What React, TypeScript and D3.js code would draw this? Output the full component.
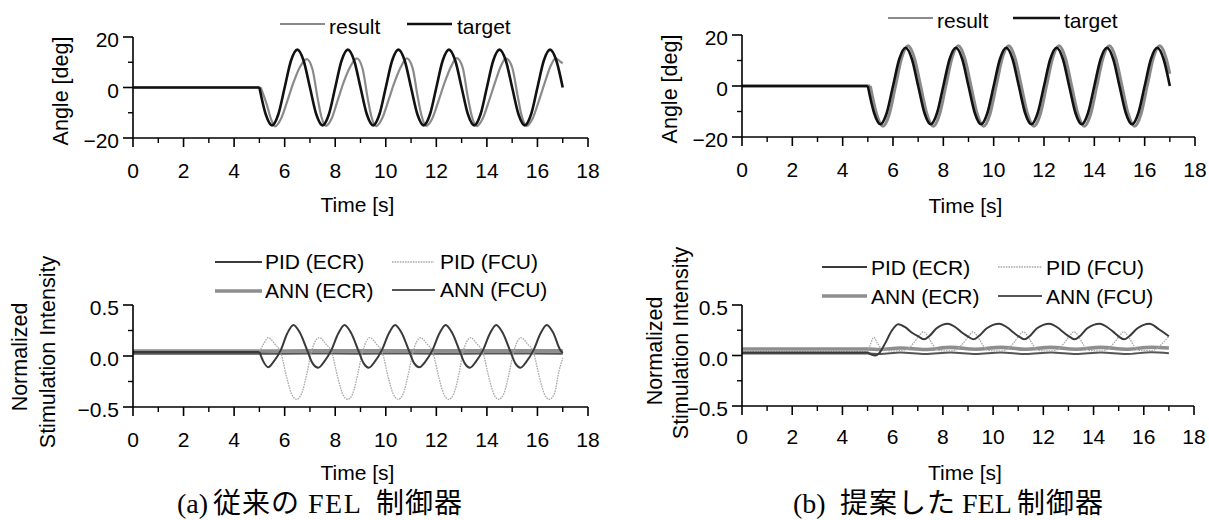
import React from 'react';
import * as d3 from 'd3';

// ---------- tick definitions ----------
const X_TICKS = [0, 2, 4, 6, 8, 10, 12, 14, 16, 18];
const X_MINOR = [1, 3, 5, 7, 9, 11, 13, 15, 17];
const ANGLE_TICKS = [-20, 0, 20];
const ANGLE_LABELS = ['\u221220', '0', '20'];
const ANGLE_MINOR = [-10, 10];
const STIM_TICKS = [-0.5, 0, 0.5];
const STIM_LABELS = ['\u22120.5', '0.0', '0.5'];
const STIM_MINOR = [-0.25, 0.25];

// ---------- captions ----------
const CAPTION_A = ['(a)', '従来の', 'FEL', '制御器'];
const CAPTION_B = ['(b)', '提案した', 'FEL', '制御器'];

// ---------- angle: target (same in both controllers) ----------
const TARGET_T = [0, 5, 5.25, 5.5, 5.75, 6, 6.25, 6.5, 6.75, 7, 7.25, 7.5, 7.75, 8, 8.25, 8.5, 8.75, 9, 9.25, 9.5, 9.75, 10, 10.25, 10.5, 10.75, 11, 11.25, 11.5, 11.75, 12, 12.25, 12.5, 12.75, 13, 13.25, 13.5, 13.75, 14, 14.25, 14.5, 14.75, 15, 15.25, 15.5, 15.75, 16, 16.25, 16.5, 16.75, 17];
const TARGET_V = [0, 0, -10.6, -15, -10.6, 0, 10.6, 15, 10.6, 0, -10.6, -15, -10.6, 0, 10.6, 15, 10.6, 0, -10.6, -15, -10.6, 0, 10.6, 15, 10.6, 0, -10.6, -15, -10.6, 0, 10.6, 15, 10.6, 0, -10.6, -15, -10.6, 0, 10.6, 15, 10.6, 0, -10.6, -15, -10.6, 0, 10.6, 15, 10.6, 0];

// ---------- angle: result, conventional FEL (a) ----------
const RESULT_A_T = [0, 5.05, 5.3, 5.45, 5.62, 5.85, 6.1, 6.35, 6.6, 6.87, 7.1, 7.3, 7.45, 7.63, 7.86, 8.1, 8.35, 8.6, 8.85, 9.08, 9.28, 9.43, 9.62, 9.85, 10.1, 10.35, 10.6, 10.83, 11.06, 11.26, 11.42, 11.6, 11.83, 12.08, 12.33, 12.58, 12.8, 13.04, 13.24, 13.4, 13.6, 13.83, 14.08, 14.33, 14.55, 14.75, 15.0, 15.22, 15.38, 15.58, 15.8, 16.05, 16.3, 16.52, 16.72, 16.9, 17];
const RESULT_A_V = [0, 0, -7, -12.2, -15.4, -12.5, -5.5, 2, 8, 11.2, 7.2, -4, -11.5, -15.2, -12.3, -5, 2.5, 8.3, 11.5, 7.5, -4, -11.5, -15.3, -12.4, -5.3, 2.2, 8.2, 11.5, 7.8, -3.5, -11.3, -15.2, -12.5, -5.5, 2, 8.2, 11.6, 8, -3.5, -11.2, -15.3, -12.4, -5.4, 2.2, 8.4, 11.5, 8, -3.5, -11.3, -15.2, -12.5, -5.5, 2.2, 8.5, 11.5, 10.3, 9.6];

// ---------- angle: result, proposed FEL (b) ----------
const RESULT_B_T = [0, 5.1, 5.35, 5.6, 5.85, 6.1, 6.35, 6.6, 6.85, 7.1, 7.35, 7.6, 7.85, 8.1, 8.35, 8.6, 8.85, 9.1, 9.35, 9.6, 9.85, 10.1, 10.35, 10.6, 10.85, 11.1, 11.35, 11.6, 11.85, 12.1, 12.35, 12.6, 12.85, 13.1, 13.35, 13.6, 13.85, 14.1, 14.35, 14.6, 14.85, 15.1, 15.35, 15.6, 15.85, 16.1, 16.35, 16.6, 16.85, 17];
const RESULT_B_V = [0, 0, -11, -15.8, -11.2, 0, 11.2, 15.8, 11, 0, -11, -15.8, -11.2, 0, 11.2, 15.8, 11, 0, -11, -15.8, -11.2, 0, 11.2, 15.8, 11, 0, -11, -15.8, -11.2, 0, 11.2, 15.8, 11, 0, -11, -15.8, -11.2, 0, 11.2, 15.8, 11, 0, -11, -15.8, -11.2, 0, 11.2, 15.8, 11, 4.8];

// ---------- stimulation, conventional FEL (a) ----------
const PID_ECR_A_T = [0, 5, 5.15, 5.35, 5.55, 5.85, 6.1, 6.35, 6.6, 6.9, 7.1, 7.33, 7.55, 7.85, 8.12, 8.37, 8.62, 8.92, 9.12, 9.33, 9.55, 9.85, 10.12, 10.37, 10.62, 10.92, 11.12, 11.33, 11.55, 11.85, 12.12, 12.37, 12.62, 12.92, 13.12, 13.33, 13.55, 13.85, 14.12, 14.37, 14.62, 14.92, 15.12, 15.33, 15.55, 15.85, 16.12, 16.37, 16.62, 16.9, 17];
const PID_ECR_A_V = [0.04, 0.04, -0.05, -0.11, -0.06, 0.06, 0.22, 0.305, 0.23, 0.05, -0.07, -0.115, -0.06, 0.06, 0.22, 0.305, 0.23, 0.05, -0.07, -0.115, -0.06, 0.06, 0.22, 0.305, 0.23, 0.05, -0.07, -0.11, -0.06, 0.06, 0.22, 0.305, 0.23, 0.05, -0.07, -0.115, -0.06, 0.06, 0.22, 0.305, 0.23, 0.05, -0.07, -0.115, -0.06, 0.06, 0.22, 0.305, 0.23, 0.06, 0.03];

const PID_FCU_A_T = [0, 5, 5.15, 5.35, 5.6, 5.85, 6.07, 6.27, 6.47, 6.67, 6.87, 7.05, 7.2, 7.37, 7.62, 7.87, 8.09, 8.29, 8.49, 8.69, 8.89, 9.07, 9.22, 9.37, 9.62, 9.87, 10.09, 10.29, 10.49, 10.69, 10.89, 11.07, 11.22, 11.37, 11.62, 11.87, 12.09, 12.29, 12.49, 12.69, 12.89, 13.05, 13.2, 13.35, 13.6, 13.85, 14.07, 14.27, 14.47, 14.67, 14.87, 15.05, 15.2, 15.35, 15.6, 15.85, 16.07, 16.27, 16.47, 16.67, 16.85, 17];
const PID_FCU_A_V = [0.04, 0.04, 0.11, 0.18,
  0.12, 0.03, -0.2, -0.37, -0.425, -0.37, -0.18, 0.03, 0.14, 0.18,
  0.12, 0.03, -0.2, -0.37, -0.425, -0.37, -0.18, 0.03, 0.14, 0.18,
  0.12, 0.03, -0.2, -0.37, -0.425, -0.37, -0.18, 0.03, 0.14, 0.18,
  0.12, 0.03, -0.2, -0.37, -0.425, -0.37, -0.18, 0.03, 0.14, 0.18,
  0.12, 0.03, -0.2, -0.37, -0.425, -0.37, -0.18, 0.03, 0.14, 0.18,
  0.12, 0.03, -0.2, -0.37, -0.425, -0.37, -0.15, -0.02];

const ANN_ECR_A_T = [0, 5, 7, 9, 11, 13, 15, 17];
const ANN_ECR_A_V = [0.048, 0.048, 0.052, 0.05, 0.052, 0.05, 0.052, 0.05];
const ANN_FCU_A_T = [0, 5, 7, 9, 11, 13, 15, 17];
const ANN_FCU_A_V = [0.022, 0.022, 0.025, 0.022, 0.025, 0.022, 0.025, 0.023];

// ---------- stimulation, proposed FEL (b) ----------
const PID_ECR_B_T = [0, 5, 5.3, 5.45, 5.7, 5.95, 6.22, 6.5, 6.8, 7.05, 7.25, 7.45, 7.75, 8.2, 8.5, 8.8, 9.02, 9.22, 9.42, 9.75, 10.25, 10.55, 10.85, 11.05, 11.25, 11.45, 11.75, 12.25, 12.55, 12.85, 13.05, 13.25, 13.45, 13.75, 14.25, 14.55, 14.85, 15.02, 15.22, 15.42, 15.75, 16.23, 16.6, 17];
const PID_ECR_B_V = [0.03, 0.03, 0.0, 0.02, 0.12, 0.24, 0.31,
  0.28, 0.22, 0.185, 0.16, 0.19, 0.27, 0.315,
  0.28, 0.22, 0.185, 0.16, 0.19, 0.27, 0.315,
  0.28, 0.22, 0.185, 0.16, 0.19, 0.27, 0.315,
  0.28, 0.22, 0.185, 0.16, 0.19, 0.27, 0.315,
  0.28, 0.22, 0.185, 0.16, 0.19, 0.27, 0.315,
  0.26, 0.19];

const PID_FCU_B_T = [0, 5, 5.1, 5.25, 5.4, 5.6, 6.0, 6.57, 6.82, 7.04, 7.22, 7.4, 7.62, 7.82, 8.3, 8.55, 8.8, 9.02, 9.2, 9.38, 9.6, 9.8, 10.3, 10.55, 10.8, 11.02, 11.2, 11.38, 11.6, 11.8, 12.3, 12.57, 12.82, 13.04, 13.22, 13.4, 13.62, 13.82, 14.3, 14.55, 14.8, 15.02, 15.2, 15.38, 15.6, 15.8, 16.35, 16.7, 17];
const PID_FCU_B_V = [0.04, 0.04, 0.1, 0.18, 0.12, 0.06, 0.045,
  0.06, 0.12, 0.19, 0.235, 0.19, 0.1, 0.05, 0.045,
  0.06, 0.12, 0.19, 0.235, 0.19, 0.1, 0.05, 0.045,
  0.06, 0.12, 0.19, 0.235, 0.19, 0.1, 0.05, 0.045,
  0.06, 0.12, 0.19, 0.235, 0.19, 0.1, 0.05, 0.045,
  0.06, 0.12, 0.19, 0.235, 0.19, 0.1, 0.05,
  0.05, 0.11, 0.19];

const ANN_ECR_B_T = [0, 5, 5.5, 6.3, 7.3, 8.3, 9.3, 10.3, 11.3, 12.3, 13.3, 14.3, 15.3, 16.3, 17];
const ANN_ECR_B_V = [0.065, 0.065, 0.06, 0.075, 0.06, 0.08, 0.062, 0.08, 0.062, 0.08, 0.062, 0.08, 0.062, 0.082, 0.075];
const ANN_FCU_B_T = [0, 5, 5.5, 6.3, 7.3, 8.3, 9.3, 10.3, 11.3, 12.3, 13.3, 14.3, 15.3, 16.3, 17];
const ANN_FCU_B_V = [0.02, 0.02, 0.015, 0.03, 0.015, 0.03, 0.015, 0.03, 0.015, 0.03, 0.015, 0.03, 0.015, 0.032, 0.022];

// ---------- styles ----------
const FONT = '"Liberation Sans", Arial, sans-serif';
const CAP_FONT = '"Liberation Serif", "Noto Sans CJK JP", serif';
const STYLE_TARGET = { stroke: '#111', width: 2.6 };
const STYLE_RESULT = { stroke: '#8a8a8a', width: 2.2 };
const STYLE_PID_ECR = { stroke: '#3a3a3a', width: 2 };
const STYLE_PID_FCU = { stroke: '#a8a8a8', width: 1.3, dash: '1.6 1' };
const STYLE_ANN_ECR = { stroke: '#8e8e8e', width: 3.6 };
const STYLE_ANN_FCU = { stroke: '#555', width: 2 };

type Style = { stroke: string; width: number; dash?: string };
type Series = { t: number[]; v: number[]; kink: number; style: Style };
type LegendItem = { label: string; lx1: number; lx2: number; ly: number; tx: number; ty: number; style: Style };
type Box = { x0: number; x1: number; yTop: number; yBot: number };

function seriesPath(s: Series, xs: d3.ScaleLinear<number, number>, ys: d3.ScaleLinear<number, number>) {
  const pts: [number, number][] = s.t.map((t, i) => [t, s.v[i]]);
  const pre = pts.filter((p) => p[0] <= s.kink);
  const post = pts.filter((p) => p[0] >= s.kink);
  const lin = d3.line<[number, number]>().x((p) => xs(p[0])).y((p) => ys(p[1]));
  const mono = d3
    .line<[number, number]>()
    .x((p) => xs(p[0]))
    .y((p) => ys(p[1]))
    .curve(d3.curveMonotoneX);
  return (pre.length > 1 ? lin(pre) : '') + (post.length > 1 ? mono(post) : '');
}

function Panel(props: {
  box: Box;
  yDomain: [number, number];
  yTicks: number[];
  yLabels: string[];
  yMinor: number[];
  series: Series[];
  legend: LegendItem[];
  titles: { text: string; x: number; y: number }[];
  xLabelDy: number;
  xTitleDy: number;
}) {
  const { box, yDomain, yTicks, yLabels, yMinor, series, legend, titles, xLabelDy, xTitleDy } = props;
  const xs = d3.scaleLinear().domain([0, 18]).range([box.x0, box.x1]);
  const ys = d3.scaleLinear().domain(yDomain).range([box.yBot, box.yTop]);
  const axisY = ys(yDomain[0]);
  return (
    <g>
      {series.map((s, i) => (
        <path
          key={'s' + i}
          d={seriesPath(s, xs, ys)}
          fill="none"
          stroke={s.style.stroke}
          strokeWidth={s.style.width}
          strokeDasharray={s.style.dash}
          strokeLinejoin="round"
        />
      ))}
      <line x1={xs(0)} x2={xs(0)} y1={ys(yDomain[1])} y2={axisY} stroke="#000" strokeWidth={1.6} />
      <line x1={xs(0)} x2={xs(18)} y1={axisY} y2={axisY} stroke="#000" strokeWidth={1.6} />
      {X_TICKS.map((t) => (
        <g key={'xt' + t}>
          <line x1={xs(t)} x2={xs(t)} y1={axisY} y2={axisY + 9} stroke="#000" strokeWidth={1.6} />
          <text x={xs(t)} y={axisY + xLabelDy} textAnchor="middle" fontFamily={FONT} fontSize={21} fill="#000">
            {t}
          </text>
        </g>
      ))}
      {X_MINOR.map((t) => (
        <line key={'xm' + t} x1={xs(t)} x2={xs(t)} y1={axisY} y2={axisY + 5} stroke="#000" strokeWidth={1.4} />
      ))}
      {yTicks.map((v, i) => (
        <g key={'yt' + v}>
          <line x1={xs(0) - 10} x2={xs(0)} y1={ys(v)} y2={ys(v)} stroke="#000" strokeWidth={1.6} />
          <text x={xs(0) - 14} y={ys(v) + 10} textAnchor="end" fontFamily={FONT} fontSize={21} fill="#000">
            {yLabels[i]}
          </text>
        </g>
      ))}
      {yMinor.map((v) => (
        <line key={'ym' + v} x1={xs(0) - 5} x2={xs(0)} y1={ys(v)} y2={ys(v)} stroke="#000" strokeWidth={1.4} />
      ))}
      <text x={(box.x0 + box.x1) / 2 - 3} y={axisY + xTitleDy} textAnchor="middle" fontFamily={FONT} fontSize={21} fill="#000">
        Time [s]
      </text>
      {titles.map((tt, i) => (
        <text
          key={'ti' + i}
          transform={`translate(${tt.x},${tt.y}) rotate(-90)`}
          textAnchor="middle"
          fontFamily={FONT}
          fontSize={21.5}
          fill="#000"
        >
          {tt.text}
        </text>
      ))}
      {legend.map((l, i) => (
        <g key={'lg' + i}>
          <line
            x1={l.lx1}
            x2={l.lx2}
            y1={l.ly}
            y2={l.ly}
            stroke={l.style.stroke}
            strokeWidth={l.style.width}
            strokeDasharray={l.style.dash}
          />
          <text x={l.tx} y={l.ty} fontFamily={FONT} fontSize={21} fill="#000">
            {l.label}
          </text>
        </g>
      ))}
    </g>
  );
}

function Caption(props: { parts: string[]; xs: number[]; spacing: number[]; y: number }) {
  return (
    <text y={props.y} fontFamily={CAP_FONT} fontSize={28} fill="#000">
      {props.parts.map((p, i) => (
        <tspan key={i} x={props.xs[i]} letterSpacing={props.spacing[i]}>
          {p}
        </tspan>
      ))}
    </text>
  );
}

export default function App() {
  const boxAT: Box = { x0: 133, x1: 588, yTop: 37, yBot: 138 };
  const boxAB: Box = { x0: 133, x1: 588, yTop: 305, yBot: 407 };
  const boxBT: Box = { x0: 742, x1: 1195, yTop: 35, yBot: 137 };
  const boxBB: Box = { x0: 742, x1: 1194, yTop: 305, yBot: 406 };

  return (
    <svg
      width={1209}
      height={520}
      viewBox="0 0 1209 520"
      style={{ position: 'absolute', left: 0, top: 0, background: '#fff' }}
    >
      <rect x={0} y={0} width={1209} height={520} fill="#fff" />
      <Panel
        box={boxAT}
        yDomain={[-20, 20]}
        yTicks={ANGLE_TICKS}
        yLabels={ANGLE_LABELS}
        yMinor={ANGLE_MINOR}
        series={[
          { t: RESULT_A_T, v: RESULT_A_V, kink: 5.05, style: STYLE_RESULT },
          { t: TARGET_T, v: TARGET_V, kink: 5, style: STYLE_TARGET },
        ]}
        legend={[
          { label: 'result', lx1: 280, lx2: 325, ly: 24, tx: 329, ty: 34, style: STYLE_RESULT },
          { label: 'target', lx1: 407, lx2: 452, ly: 24, tx: 457, ty: 34, style: STYLE_TARGET },
        ]}
        titles={[{ text: 'Angle [deg]', x: 68, y: 91 }]}
        xLabelDy={40}
        xTitleDy={74}
      />
      <Panel
        box={boxAB}
        yDomain={[-0.5, 0.5]}
        yTicks={STIM_TICKS}
        yLabels={STIM_LABELS}
        yMinor={STIM_MINOR}
        series={[
          { t: ANN_ECR_A_T, v: ANN_ECR_A_V, kink: 0, style: STYLE_ANN_ECR },
          { t: ANN_FCU_A_T, v: ANN_FCU_A_V, kink: 0, style: STYLE_ANN_FCU },
          { t: PID_FCU_A_T, v: PID_FCU_A_V, kink: 5, style: STYLE_PID_FCU },
          { t: PID_ECR_A_T, v: PID_ECR_A_V, kink: 5, style: STYLE_PID_ECR },
        ]}
        legend={[
          { label: 'PID (ECR)', lx1: 215, lx2: 262, ly: 262, tx: 265, ty: 269, style: STYLE_PID_ECR },
          { label: 'PID (FCU)', lx1: 392, lx2: 434, ly: 262, tx: 440, ty: 269, style: STYLE_PID_FCU },
          { label: 'ANN (ECR)', lx1: 215, lx2: 262, ly: 291, tx: 265, ty: 298, style: STYLE_ANN_ECR },
          { label: 'ANN (FCU)', lx1: 392, lx2: 435, ly: 290, tx: 440, ty: 297, style: STYLE_ANN_FCU },
        ]}
        titles={[
          { text: 'Normalized', x: 27, y: 357 },
          { text: 'Stimulation Intensity', x: 55, y: 352 },
        ]}
        xLabelDy={40}
        xTitleDy={73}
      />
      <Panel
        box={boxBT}
        yDomain={[-20, 20]}
        yTicks={ANGLE_TICKS}
        yLabels={ANGLE_LABELS}
        yMinor={ANGLE_MINOR}
        series={[
          { t: RESULT_B_T, v: RESULT_B_V, kink: 5.1, style: { stroke: '#8a8a8a', width: 3 } },
          { t: TARGET_T, v: TARGET_V, kink: 5, style: STYLE_TARGET },
        ]}
        legend={[
          { label: 'result', lx1: 888, lx2: 933, ly: 18, tx: 937, ty: 28, style: STYLE_RESULT },
          { label: 'target', lx1: 1013, lx2: 1060, ly: 18, tx: 1064, ty: 28, style: STYLE_TARGET },
        ]}
        titles={[{ text: 'Angle [deg]', x: 677, y: 89 }]}
        xLabelDy={40}
        xTitleDy={76}
      />
      <Panel
        box={boxBB}
        yDomain={[-0.5, 0.5]}
        yTicks={STIM_TICKS}
        yLabels={STIM_LABELS}
        yMinor={STIM_MINOR}
        series={[
          { t: ANN_ECR_B_T, v: ANN_ECR_B_V, kink: 0, style: STYLE_ANN_ECR },
          { t: ANN_FCU_B_T, v: ANN_FCU_B_V, kink: 0, style: STYLE_ANN_FCU },
          { t: PID_FCU_B_T, v: PID_FCU_B_V, kink: 5, style: STYLE_PID_FCU },
          { t: PID_ECR_B_T, v: PID_ECR_B_V, kink: 5, style: STYLE_PID_ECR },
        ]}
        legend={[
          { label: 'PID (ECR)', lx1: 822, lx2: 867, ly: 267, tx: 871, ty: 275, style: STYLE_PID_ECR },
          { label: 'PID (FCU)', lx1: 998, lx2: 1042, ly: 267, tx: 1046, ty: 275, style: STYLE_PID_FCU },
          { label: 'ANN (ECR)', lx1: 822, lx2: 867, ly: 296, tx: 871, ty: 304, style: STYLE_ANN_ECR },
          { label: 'ANN (FCU)', lx1: 998, lx2: 1042, ly: 296, tx: 1046, ty: 304, style: STYLE_ANN_FCU },
        ]}
        titles={[
          { text: 'Normalized', x: 662, y: 351 },
          { text: 'Stimulation Intensity', x: 688, y: 343 },
        ]}
        xLabelDy={38}
        xTitleDy={74}
      />
      <Caption parts={CAPTION_A} xs={[177, 213, 308, 376]} spacing={[0, 1, 1.5, 1]} y={513} />
      <Caption parts={CAPTION_B} xs={[793, 840, 962, 1017]} spacing={[0, 1, 0, 1]} y={513} />
    </svg>
  );
}
